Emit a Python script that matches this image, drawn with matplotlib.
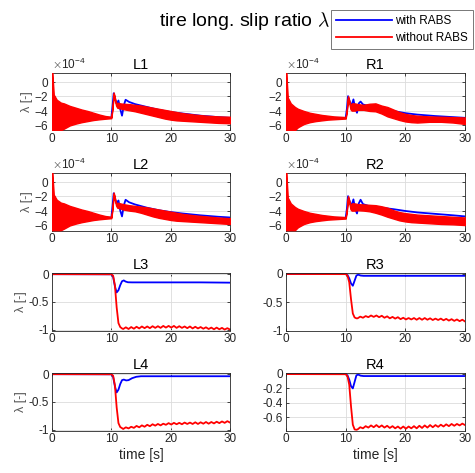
import numpy as np
import matplotlib
matplotlib.use("Agg")
import matplotlib.pyplot as plt
from matplotlib.ticker import ScalarFormatter

plt.rcParams['font.family'] = ['Liberation Sans', 'DejaVu Sans']
plt.rcParams['mathtext.fontset'] = 'cm'
plt.rcParams['axes.unicode_minus'] = False

# ---------------- data (rows 1-2 in units of 1e-4) ----------------
SCALE = 1e-4
env_t = [0, 0.05, 0.3, 0.8, 1.5, 2, 3, 4, 5, 6, 7, 8, 9, 10, 10.2, 10.4, 10.6, 10.8,
         11, 11.5, 12, 13, 14, 15, 16, 17, 18, 19, 20, 21, 22, 24, 26, 28, 30]

L1_red_up = [1.2, 1.2, -1.8, -2.5, -2.9, -3.0, -3.35, -3.6, -3.85, -4.05, -4.3, -4.55, -4.75, -4.85,
             -3.5, -1.5, -2.2, -3.0, -2.9, -3.0, -3.05, -3.1, -3.2, -3.3, -3.45, -3.6, -3.75, -3.9,
             -4.05, -4.2, -4.35, -4.55, -4.7, -4.8, -4.85]
L1_red_lo = [-6.7, -6.7, -6.7, -6.7, -6.7, -6.5, -6.05, -5.8, -5.6, -5.45, -5.3, -5.2, -5.12, -5.05,
             -3.7, -1.7, -2.5, -3.3, -3.6, -3.7, -3.8, -3.95, -4.1, -4.3, -4.5, -4.7, -4.9, -5.1,
             -5.25, -5.35, -5.4, -5.5, -5.6, -5.7, -5.75]
L2_red_up = [1.2, 1.2, -1.8, -2.5, -2.9, -3.0, -3.35, -3.6, -3.85, -4.05, -4.3, -4.55, -4.75, -4.85,
             -3.5, -1.5, -2.2, -3.0, -2.9, -3.0, -3.1, -3.25, -3.35, -3.45, -3.55, -3.7, -3.85, -4.0,
             -4.15, -4.3, -4.45, -4.65, -4.8, -4.95, -5.05]
L2_red_lo = [-6.7, -6.7, -6.7, -6.7, -6.7, -6.5, -6.05, -5.8, -5.6, -5.45, -5.3, -5.2, -5.12, -5.05,
             -3.7, -1.7, -2.5, -3.3, -3.6, -3.7, -3.85, -4.0, -4.1, -4.3, -4.55, -4.8, -5.0, -5.15,
             -5.3, -5.4, -5.45, -5.55, -5.65, -5.75, -5.85]
R1_red_up = [1.2, 1.2, -2.2, -3.0, -3.5, -3.75, -4.05, -4.3, -4.45, -4.6, -4.7, -4.8, -4.85, -4.9,
             -3.8, -2.0, -2.6, -3.4, -3.0, -3.0, -3.1, -3.2, -3.05, -3.0, -3.3, -3.5, -3.85, -4.2,
             -4.45, -4.6, -4.7, -4.8, -4.85, -4.9, -4.95]
R1_red_lo = [-6.7, -6.7, -6.7, -6.7, -6.7, -6.3, -5.85, -5.6, -5.45, -5.35, -5.25, -5.2, -5.15, -5.1,
             -4.0, -2.2, -2.9, -3.8, -4.0, -4.0, -3.9, -3.9, -4.05, -4.1, -4.4, -4.8, -5.05, -5.3,
             -5.5, -5.6, -5.65, -5.55, -5.55, -5.65, -5.85]
R2_red_up = [1.2, 1.2, -2.2, -3.0, -3.5, -3.75, -4.05, -4.3, -4.45, -4.6, -4.7, -4.8, -4.85, -4.9,
             -3.8, -2.0, -2.6, -3.4, -3.0, -3.0, -3.1, -3.15, -3.2, -3.25, -3.4, -3.6, -3.95, -4.2,
             -4.35, -4.45, -4.55, -4.65, -4.75, -4.85, -4.95]
R2_red_lo = [-6.7, -6.7, -6.7, -6.7, -6.7, -6.3, -5.85, -5.6, -5.45, -5.35, -5.25, -5.2, -5.15, -5.1,
             -4.0, -2.2, -2.9, -3.8, -4.0, -4.0, -3.95, -4.0, -4.1, -4.3, -4.55, -4.85, -5.1, -5.35,
             -5.5, -5.6, -5.65, -5.75, -5.85, -5.9, -6.0]

blueL_t = [0, 10.0, 10.2, 10.4, 10.7, 11.0, 11.2, 11.5, 11.8, 12.1, 12.4, 13, 14, 16, 18, 20, 22, 25, 28, 30]
L1_blue = [-5.0, -5.0, -3.4, -1.6, -2.6, -3.0, -2.6, -3.8, -4.7, -3.3, -2.5, -2.8, -3.1, -3.5, -3.9,
           -4.2, -4.4, -4.7, -4.9, -5.0]
L2_blue = [-5.0, -5.0, -3.4, -1.6, -2.6, -3.0, -2.6, -4.0, -4.8, -3.3, -2.5, -2.85, -3.15, -3.6, -3.95,
           -4.2, -4.4, -4.65, -4.85, -4.95]
blueR_t = [0, 10.0, 10.2, 10.4, 10.7, 11.0, 11.3, 11.6, 11.9, 12.2, 12.5, 12.9, 14, 16, 18, 20, 22, 25, 28, 30]
R1_blue = [-5.0, -5.0, -3.8, -2.0, -2.8, -3.3, -2.45, -3.7, -4.3, -3.0, -2.75, -3.15, -3.4, -3.7, -4.05,
           -4.35, -4.55, -4.75, -4.9, -5.0]
R2_blue = [-5.0, -5.0, -3.8, -2.0, -2.8, -3.3, -2.45, -3.8, -4.4, -3.0, -2.5, -3.1, -3.4, -3.6, -3.8,
           -4.05, -4.25, -4.45, -4.65, -4.8]

# rows 3-4 (real units)
red_pre_t = [0, 10.0, 10.3, 10.6, 10.9, 11.2, 11.5, 11.8]
zig_t = [12.0, 12.45, 12.9, 13.35, 13.8, 14.25, 14.7, 15.15, 15.6, 16.05, 16.5, 16.95, 17.4, 17.85,
         18.3, 18.75, 19.2, 19.65, 20.1, 20.55, 21.0, 21.45, 21.9, 22.35, 22.8, 23.25, 23.7, 24.15,
         24.6, 25.05, 25.5, 25.95, 26.4, 26.85, 27.3, 27.75, 28.2, 28.65, 29.1, 29.55, 30.0]

L3_red_pre = [-0.003, -0.005, -0.03, -0.2, -0.6, -0.88, -0.95, -0.975]
L3_red_zig = [-0.985, -0.955, -0.985, -0.95, -0.98, -0.945, -0.975, -0.94, -0.97, -0.94, -0.97, -0.935,
              -0.965, -0.935, -0.965, -0.93, -0.96, -0.93, -0.96, -0.93, -0.965, -0.935, -0.965, -0.94,
              -0.97, -0.94, -0.975, -0.945, -0.975, -0.95, -0.98, -0.955, -0.985, -0.96, -0.99, -0.96,
              -0.99, -0.965, -0.995, -0.97, -0.995]
L4_red_pre = [-0.003, -0.005, -0.03, -0.2, -0.6, -0.88, -0.95, -0.97]
L4_red_zig = [-0.985, -0.955, -0.975, -0.945, -0.965, -0.93, -0.955, -0.92, -0.945, -0.91, -0.935, -0.9,
              -0.925, -0.895, -0.92, -0.89, -0.91, -0.88, -0.905, -0.875, -0.9, -0.875, -0.9, -0.87,
              -0.895, -0.87, -0.895, -0.865, -0.895, -0.865, -0.89, -0.86, -0.89, -0.86, -0.885, -0.855,
              -0.88, -0.85, -0.875, -0.845, -0.87]
R3_red_pre = [-0.003, -0.005, -0.03, -0.15, -0.45, -0.7, -0.77, -0.785]
R3_red_zig = [-0.785, -0.755, -0.775, -0.745, -0.765, -0.735, -0.76, -0.735, -0.765, -0.74, -0.775, -0.75,
              -0.785, -0.76, -0.79, -0.765, -0.8, -0.775, -0.805, -0.78, -0.805, -0.78, -0.81, -0.78,
              -0.81, -0.78, -0.81, -0.785, -0.815, -0.79, -0.815, -0.79, -0.82, -0.795, -0.825, -0.8,
              -0.83, -0.805, -0.835, -0.81, -0.84]
R4_red_pre = [-0.003, -0.005, -0.03, -0.15, -0.45, -0.7, -0.765, -0.77]
R4_red_zig = [-0.765, -0.735, -0.75, -0.72, -0.74, -0.71, -0.735, -0.705, -0.735, -0.71, -0.74, -0.715,
              -0.745, -0.72, -0.75, -0.725, -0.755, -0.725, -0.755, -0.725, -0.75, -0.72, -0.75, -0.715,
              -0.745, -0.71, -0.74, -0.705, -0.735, -0.705, -0.73, -0.7, -0.725, -0.695, -0.72, -0.69,
              -0.715, -0.69, -0.71, -0.685, -0.705]

L3_blue_t = [0, 10.0, 10.3, 10.6, 10.9, 11.2, 11.5, 11.8, 12.1, 12.4, 12.8, 13.5, 15, 20, 25, 30]
L3_blue = [-0.003, -0.005, -0.05, -0.22, -0.33, -0.29, -0.2, -0.13, -0.115, -0.135, -0.148, -0.15,
           -0.15, -0.15, -0.15, -0.155]
L4_blue_t = [0, 10.0, 10.3, 10.6, 10.9, 11.2, 11.5, 11.8, 12.1, 12.5, 12.9, 13.5, 14.2, 15, 20, 25, 30]
L4_blue = [-0.003, -0.005, -0.05, -0.22, -0.33, -0.28, -0.18, -0.11, -0.1, -0.115, -0.11, -0.075,
           -0.05, -0.04, -0.04, -0.04, -0.04]
R_blue_t = [0, 10.0, 10.3, 10.6, 10.9, 11.2, 11.5, 11.8, 12.1, 12.5, 13, 20, 30]
R3_blue = [-0.003, -0.003, -0.02, -0.08, -0.17, -0.21, -0.12, -0.03, -0.015, -0.03, -0.035, -0.035, -0.035]
R4_blue = [-0.003, -0.003, -0.02, -0.08, -0.17, -0.2, -0.11, -0.02, -0.01, -0.025, -0.03, -0.03, -0.03]

x_ticks = [0, 10, 20, 30]
titles = [["L1", "R1"], ["L2", "R2"], ["L3", "R3"], ["L4", "R4"]]

# ---------------- figure ----------------
W, H = 475, 473
fig = plt.figure(figsize=(W / 100, H / 100), dpi=100)

col_x = [52, 286]
col_w = [178, 179]
row_top = [73, 173, 273, 373]
row_h = 57.5

TXT = '#262626'
BLUE = '#0000ff'
RED = '#ff0000'


def make_ax(r, c):
    ax = fig.add_axes([col_x[c] / W, 1 - (row_top[r] + row_h) / H, col_w[c] / W, row_h / H])
    ax.set_xlim(0, 30)
    ax.set_xticks(x_ticks)
    ax.grid(True, color='#dcdcdc', lw=0.6)
    ax.set_axisbelow(True)
    ax.tick_params(direction='in', length=2.5, width=0.6, top=True, right=True,
                   labelsize=8.5, colors=TXT, pad=2)
    for s in ax.spines.values():
        s.set_color(TXT)
        s.set_linewidth(0.6)
    ax.set_title(titles[r][c], fontsize=10.5, pad=3, color='black')
    return ax


lw = 1.3
top_data = {
    (0, 0): (blueL_t, L1_blue, L1_red_up, L1_red_lo),
    (0, 1): (blueR_t, R1_blue, R1_red_up, R1_red_lo),
    (1, 0): (blueL_t, L2_blue, L2_red_up, L2_red_lo),
    (1, 1): (blueR_t, R2_blue, R2_red_up, R2_red_lo),
}
for (r, c), (bt, bv, up, lo) in top_data.items():
    ax = make_ax(r, c)
    ax.plot(bt, np.array(bv) * SCALE, color=BLUE, lw=lw, zorder=2)
    ax.fill_between(env_t, np.array(lo) * SCALE, np.array(up) * SCALE,
                    facecolor=RED, edgecolor=RED, lw=1.0, zorder=3)
    ax.set_ylim(-6.75e-4, 1.2e-4)
    ax.set_yticks(np.array([-6, -4, -2, 0]) * SCALE)
    fmt = ScalarFormatter(useMathText=True)
    fmt.set_powerlimits((-3, 3))
    ax.yaxis.set_major_formatter(fmt)
    ax.yaxis.get_offset_text().set_fontsize(8.5)
    ax.yaxis.get_offset_text().set_color(TXT)
    if c == 0:
        ax.set_ylabel('λ [-]', fontsize=9, color='#555555', labelpad=1)

bottom_data = {
    (2, 0): (L3_blue_t, L3_blue, L3_red_pre, L3_red_zig, (-1.012, 0.018), [-1, -0.5, 0]),
    (2, 1): (R_blue_t, R3_blue, R3_red_pre, R3_red_zig, (-1.0, 0.015), [-1, -0.5, 0]),
    (3, 0): (L4_blue_t, L4_blue, L4_red_pre, L4_red_zig, (-1.012, 0.018), [-1, -0.5, 0]),
    (3, 1): (R_blue_t, R4_blue, R4_red_pre, R4_red_zig, (-0.78, 0.012), [-0.6, -0.4, -0.2, 0]),
}
handles = None
for (r, c), (bt, bv, rp, rz, yl, yt) in bottom_data.items():
    ax = make_ax(r, c)
    hb, = ax.plot(bt, bv, color=BLUE, lw=lw)
    hr, = ax.plot(list(red_pre_t) + list(zig_t), list(rp) + list(rz), color=RED, lw=lw)
    ax.set_ylim(*yl)
    ax.set_yticks(yt)
    ax.set_yticklabels([f'{v:g}' for v in yt])
    if c == 0:
        ax.set_ylabel('λ [-]', fontsize=9, color='#555555', labelpad=1)
    if r == 3:
        ax.set_xlabel('time [s]', fontsize=10, color=TXT, labelpad=2)
    handles = (hb, hr)

fig.text(0.515, 0.955, r'tire long. slip ratio $\lambda$', fontsize=14, ha='center', va='center')

leg = fig.legend(handles, ['with RABS', 'without RABS'], loc='upper right',
                 bbox_to_anchor=(0.996, 0.979), fontsize=8.5, handlelength=4.7,
                 handletextpad=0.3, borderpad=0.42, labelspacing=0.42, fancybox=False,
                 framealpha=1, edgecolor='#777777', borderaxespad=0)
leg.get_frame().set_linewidth(0.7)

fig.savefig('out.png', dpi=100)
